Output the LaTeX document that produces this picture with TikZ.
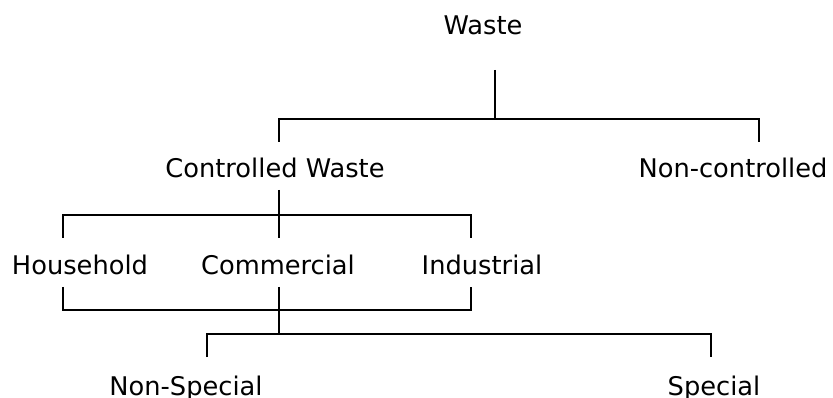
\documentclass[tikz,border=0pt]{standalone}
\usepackage{fontspec}
\setmainfont{DejaVu Sans}

\begin{document}
\begin{tikzpicture}[x=1pt,y=-1pt,line width=2pt,
    every node/.style={anchor=base,inner sep=0pt,font=\fontsize{25.7}{30}\selectfont}]
            \useasboundingbox (0,0) rectangle (833,398);
            % labels
            \node (waste) at (483,35) {Waste};
            \node (controlled) at (275,178) {Controlled Waste};
            \node (noncontrolled) at (733,178) {Non-controlled};
            \node (household) at (80,275) {Household};
            \node (commercial) at (278,275) {Commercial};
            \node (industrial) at (482,275) {Industrial};
            \node (nonspecial) at (186,395) {Non-Special};
            \node (special) at (714,395) {Special};
            % line ends
            \coordinate (waste-s) at (495,70);
            \coordinate (bar1) at (495,119);
            \coordinate (controlled-n) at (279,142);
            \coordinate (noncontrolled-n) at (759,142);
            \coordinate (controlled-s) at (279,190);
            \coordinate (household-n) at (63,238);
            \coordinate (commercial-n) at (279,238);
            \coordinate (industrial-n) at (471,238);
            \coordinate (household-s) at (63,287);
            \coordinate (commercial-s) at (279,287);
            \coordinate (industrial-s) at (471,287);
            \coordinate (bar3) at (279,334);
            \coordinate (nonspecial-n) at (207,357);
            \coordinate (special-n) at (711,357);
            % connectors
            \draw (waste-s) -- (bar1);
            \draw (controlled-n) -- ++(0,-23) -| (noncontrolled-n);
            \draw (controlled-s) -- (commercial-n);
            \draw (household-n) -- ++(0,-23) -| (industrial-n);
            \draw (household-s) -- ++(0,23) -| (industrial-s);
            \draw (commercial-s) -- (bar3);
            \draw (nonspecial-n) -- ++(0,-23) -| (special-n);
        \end{tikzpicture}
\end{document}
